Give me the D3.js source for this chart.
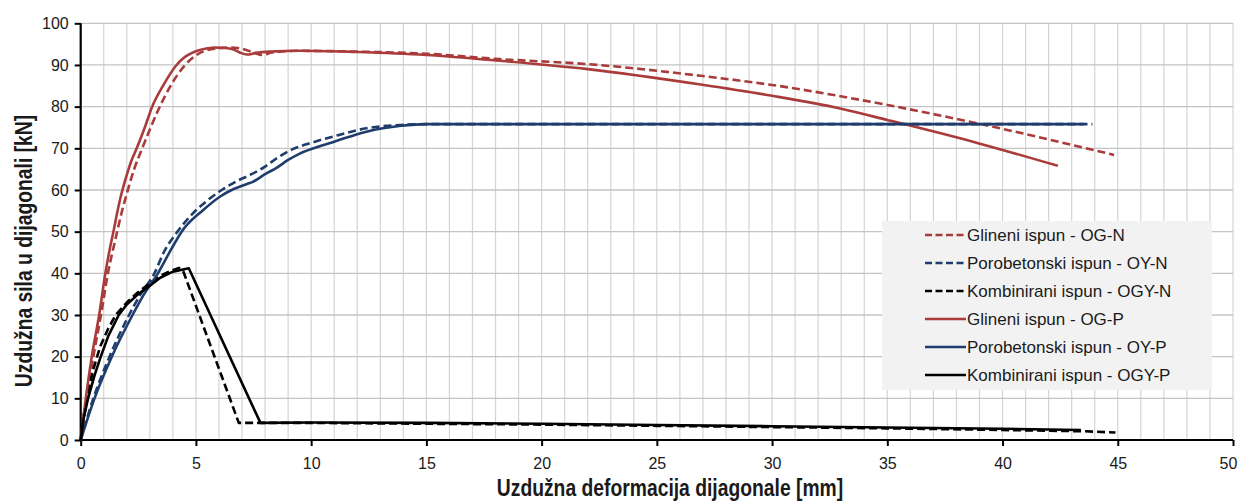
<!DOCTYPE html>
<html>
<head>
<meta charset="utf-8">
<script src="https://cdn.jsdelivr.net/npm/d3@7"></script>
<style>
  html, body { margin: 0; padding: 0; background: #fff; }
  svg { display: block; }
  text { font-family: 'Liberation Sans', Arial, sans-serif; fill: #1a1a1a; }
</style>
</head>
<body>
<svg id="chart" width="1239" height="501"></svg>
<script>
// ---------- DATA ----------
const xTicks = [0, 5, 10, 15, 20, 25, 30, 35, 40, 45, 50];
const yTicks = [0, 10, 20, 30, 40, 50, 60, 70, 80, 90, 100];

const seriesNames = [
  "Glineni ispun - OG-N",
  "Porobetonski ispun - OY-N",
  "Kombinirani ispun - OGY-N",
  "Glineni ispun - OG-P",
  "Porobetonski ispun - OY-P",
  "Kombinirani ispun - OGY-P"
];

// OG-N (dashed red)
const ogN_x = [0, 0.27, 0.55, 0.88, 1.18, 1.5, 1.75, 2.02, 2.32, 2.67, 3.0, 3.39, 3.9, 4.5, 5.0, 5.5, 6.0, 6.5, 7.0, 7.5, 7.9, 8.3, 9.5, 12, 15, 18.2, 22, 26.9, 30, 35, 38.9, 44.84];
const ogN_y = [0, 10, 20, 30, 40, 48, 54, 59.5, 65, 70, 74.5, 79.5, 85, 89.8, 92.3, 93.6, 94.0, 94.2, 93.9, 93.0, 92.4, 93.0, 93.4, 93.2, 92.7, 91.4, 90.2, 87.4, 85.2, 80.4, 76.0, 68.4];
// OY-N (dashed blue)
const oyN_x = [0, 0.55, 1.25, 2.1, 2.6, 3.2, 3.6, 4.2, 4.89, 5.5, 6.12, 6.8, 7.34, 8.0, 8.5, 9.2, 10, 11, 12.4, 13.9, 15, 20, 30, 43.9];
const oyN_y = [0, 10, 20, 30, 35, 40, 45, 50, 54.5, 57.5, 60, 62.2, 63.6, 65.6, 67.6, 69.8, 71.3, 72.9, 74.8, 75.6, 75.8, 75.8, 75.8, 75.8];
// OGY-N (dashed black)
const ogyN_x = [0, 0.1, 0.26, 0.55, 0.85, 1.2, 1.52, 2.0, 2.5, 3.0, 3.5, 3.9, 4.26, 4.45, 6.86, 10, 15, 20, 25, 30, 35, 40, 43.5, 44.9];
const ogyN_y = [0, 5, 10, 17, 22.5, 26.8, 30, 33, 35.5, 37.6, 39.5, 40.6, 41.3, 40.5, 4.1, 4.1, 3.9, 3.7, 3.4, 3.1, 2.8, 2.4, 2.1, 1.8];
// OG-P (solid red)
const ogP_x = [0, 0.22, 0.48, 0.8, 1.07, 1.25, 1.42, 1.6, 1.72, 1.86, 2.02, 2.2, 2.43, 2.78, 3.1, 3.57, 4.16, 4.45, 5.0, 5.5, 5.8, 6.2, 6.6, 6.9, 7.22, 7.6, 8.2, 9.5, 12, 15, 18.2, 22, 26.9, 30, 33, 35, 38.9, 42.4];
const ogP_y = [0, 10, 20, 30, 40, 45.5, 50, 55, 58, 61, 64, 67, 70, 75, 80, 85, 90, 91.6, 93.3, 94.0, 94.2, 94.1, 93.8, 93.0, 92.5, 92.9, 93.2, 93.4, 93.1, 92.4, 91.0, 89.0, 85.3, 82.6, 79.5, 76.8, 71.3, 65.8];
// OY-P (solid blue)
const oyP_x = [0, 0.6, 1.35, 2.25, 2.75, 3.35, 3.9, 4.38, 5.32, 6.07, 6.55, 7.1, 7.49, 8.0, 8.5, 9.0, 9.53, 10.2, 11, 12.4, 13.9, 15, 20, 30, 43.5];
const oyP_y = [0, 10, 20, 30, 35, 40, 45.5, 50, 55.2, 58.5, 60, 61.2, 62, 63.8, 65.3, 67.2, 68.8, 70.2, 71.6, 74, 75.4, 75.8, 75.8, 75.8, 75.8];
// OGY-P (solid black)
const ogyP_x = [0, 0.12, 0.32, 0.6, 0.87, 1.2, 1.65, 2.0, 2.5, 3.0, 3.47, 4.0, 4.69, 7.8, 10, 15, 20, 25, 30, 35, 40, 43.4];
const ogyP_y = [0, 5, 10, 15.5, 20, 25, 30, 32.5, 35, 37, 39, 40.4, 41.2, 4.1, 4.2, 4.1, 3.9, 3.6, 3.3, 3.0, 2.7, 2.4];

// ---------- STYLE ----------
const RED = "#a93b3a", BLUE = "#1f3d6c", BLACK = "#000000";
const seriesX = [ogN_x, oyN_x, ogyN_x, ogP_x, oyP_x, ogyP_x];
const seriesY = [ogN_y, oyN_y, ogyN_y, ogP_y, oyP_y, ogyP_y];
const colors = [RED, BLUE, BLACK, RED, BLUE, BLACK];
const dashed = [true, true, true, false, false, false];

const svg = d3.select("#chart");
const mLeft = 80.7, mRight = 1233, mTop = 23.3, mBottom = 440;
const x = d3.scaleLinear().domain([0, 50]).range([mLeft, mRight]);
const y = d3.scaleLinear().domain([0, 100]).range([mBottom, mTop]);

// grid
const g = svg.append("g");
g.selectAll("line.v").data(d3.range(1, 51)).join("line")
  .attr("x1", d => x(d)).attr("x2", d => x(d))
  .attr("y1", y(0)).attr("y2", y(100))
  .attr("stroke", "#d4d4d4").attr("stroke-width", 1.2);
g.selectAll("line.h").data(yTicks.slice(1)).join("line")
  .attr("x1", x(0)).attr("x2", x(50))
  .attr("y1", d => y(d)).attr("y2", d => y(d))
  .attr("stroke", "#c4c4c4").attr("stroke-width", 1.3);

// axes
const xAxis = d3.axisBottom(x).tickValues(xTicks).tickSize(6).tickFormat(d3.format("d"));
const yAxis = d3.axisLeft(y).tickValues(yTicks).tickSize(6).tickFormat(d3.format("d"));

const gx = svg.append("g").attr("transform", `translate(0,${mBottom})`).call(xAxis);
gx.select(".domain").attr("stroke", "#000").attr("stroke-width", 2.2).attr("d", `M${mLeft},0H${mRight}`);
gx.selectAll(".tick line").attr("stroke", "#000").attr("stroke-width", 2);
gx.selectAll(".tick text").attr("font-size", 16).attr("dy", null).attr("y", 29)
  .attr("x", d => d === 50 ? -5 : 0)
  .style("font-family", "'Liberation Sans', Arial, sans-serif").attr("fill", "#1a1a1a");

const gy = svg.append("g").attr("transform", `translate(${mLeft},0)`).call(yAxis);
gy.select(".domain").attr("stroke", "#000").attr("stroke-width", 2.2).attr("d", `M0,${mTop}V${mBottom}`);
gy.selectAll(".tick line").attr("stroke", "#000").attr("stroke-width", 2);
gy.selectAll(".tick text").attr("font-size", 16).attr("x", -12)
  .style("font-family", "'Liberation Sans', Arial, sans-serif").attr("fill", "#1a1a1a");

// axis titles (narrow bold look)
svg.append("text").attr("transform", "translate(670,496) scale(0.84,1)")
  .attr("text-anchor", "middle").attr("font-size", 23).attr("font-weight", "bold")
  .text("Uzdužna deformacija dijagonale [mm]");
svg.append("text").attr("transform", "translate(32,251) rotate(-90) scale(0.84,1)")
  .attr("text-anchor", "middle").attr("font-size", 23).attr("font-weight", "bold")
  .text("Uzdužna sila u dijagonali [kN]");

// legend box
const lg = svg.append("g");
lg.append("rect").attr("x", 882).attr("y", 221).attr("width", 330).attr("height", 169).attr("fill", "#f2f2f2");
const legRows = d3.range(6);
lg.selectAll("line.leg").data(legRows).join("line")
  .attr("x1", 925).attr("x2", 966)
  .attr("y1", i => 235 + i * 28).attr("y2", i => 235 + i * 28)
  .attr("stroke", i => colors[i]).attr("stroke-width", 2.6)
  .attr("stroke-dasharray", i => dashed[i] ? "7,3.5" : null);
lg.selectAll("text.leg").data(legRows).join("text")
  .attr("x", 967).attr("y", i => 235 + i * 28).attr("dy", "0.35em")
  .attr("font-size", 17)
  .text(i => seriesNames[i]);

// series
const line = d3.line().x(d => x(d[0])).y(d => y(d[1])).curve(d3.curveMonotoneX);
const lineLinear = d3.line().x(d => x(d[0])).y(d => y(d[1]));
seriesNames.forEach((name, i) => {
  const pts = seriesX[i].map((v, k) => [v, seriesY[i][k]]);
  const gen = (i === 2 || i === 5) ? lineLinear : line;
  svg.append("path").datum(pts)
    .attr("d", gen)
    .attr("fill", "none")
    .attr("stroke", colors[i])
    .attr("stroke-width", 2.6)
    .attr("stroke-linejoin", "round")
    .attr("stroke-dasharray", dashed[i] ? "8,4" : null);
});
</script>
</body>
</html>
